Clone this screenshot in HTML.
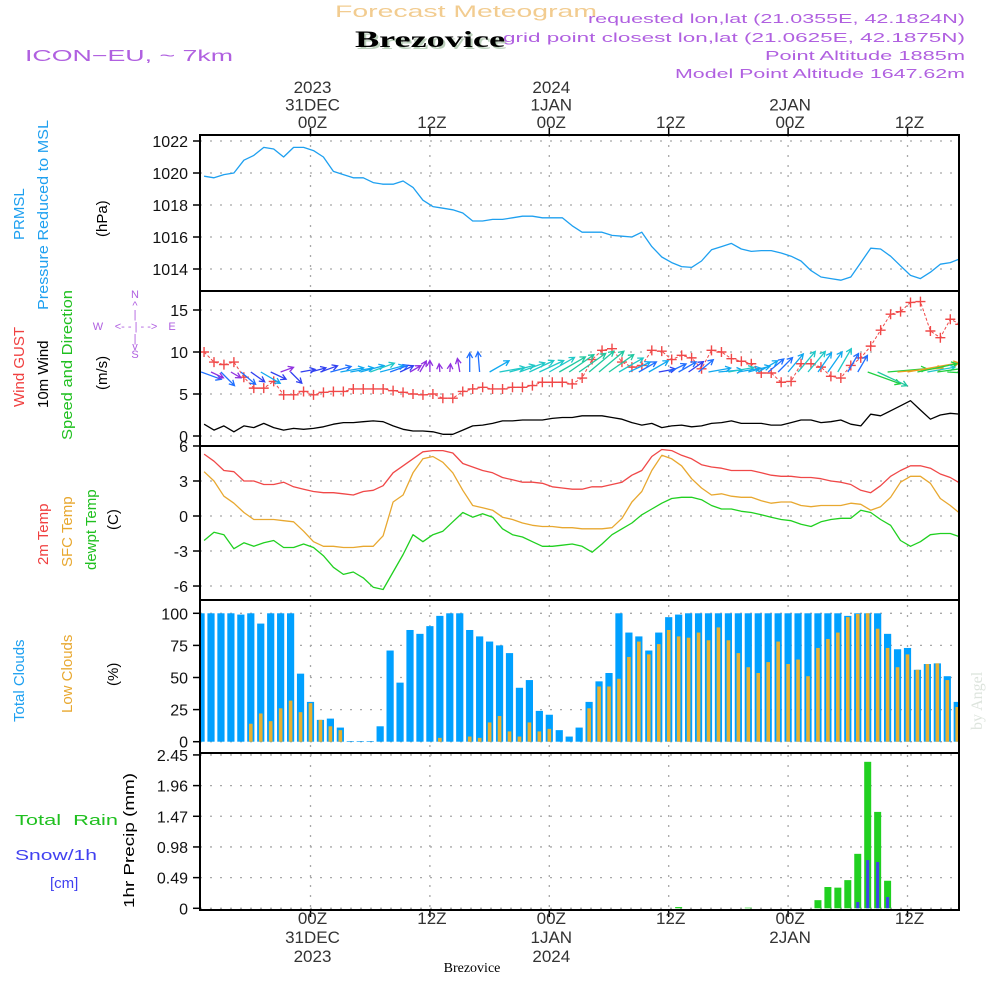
<!DOCTYPE html>
<html><head><meta charset="utf-8"><title>Forecast Meteogram Brezovice</title>
<style>
html,body{margin:0;padding:0;background:#fff;}
svg{display:block;font-family:"Liberation Sans",sans-serif;}
</style></head>
<body>
<svg id="chart" width="1000" height="1000" viewBox="0 0 1000 1000" xmlns="http://www.w3.org/2000/svg">
<defs><clipPath id="plotclip"><rect x="201" y="130" width="757" height="790"/></clipPath></defs>
<text x="335" y="17" font-size="17" fill="#f2cc90" textLength="262" lengthAdjust="spacingAndGlyphs">Forecast Meteogram</text>
<text x="357" y="49" font-size="23" font-weight="bold" font-family="Liberation Serif,serif" fill="#bcd0bc" textLength="150" lengthAdjust="spacingAndGlyphs">Brezovice</text>
<text x="355" y="47" font-size="23" font-weight="bold" font-family="Liberation Serif,serif" fill="#000" textLength="150" lengthAdjust="spacingAndGlyphs">Brezovice</text>
<text x="25" y="61" font-size="16" fill="#b060e0" textLength="208" lengthAdjust="spacingAndGlyphs">ICON−EU, ~ 7km</text>
<g font-size="13" fill="#b060e0" text-anchor="end">
<text x="965" y="23" textLength="377" lengthAdjust="spacingAndGlyphs">requested lon,lat (21.0355E, 42.1824N)</text>
<text x="965" y="42" textLength="462" lengthAdjust="spacingAndGlyphs">grid point closest lon,lat (21.0625E, 42.1875N)</text>
<text x="965" y="60" textLength="200" lengthAdjust="spacingAndGlyphs">Point Altitude 1885m</text>
<text x="965" y="78" textLength="290" lengthAdjust="spacingAndGlyphs">Model Point Altitude 1647.62m</text>
</g>
<g font-size="15">
<text transform="translate(24,240) rotate(-90)" fill="#1ea0f0">PRMSL</text>
<text transform="translate(48,310) rotate(-90)" fill="#1ea0f0" textLength="190" lengthAdjust="spacingAndGlyphs">Pressure Reduced to MSL</text>
<text transform="translate(107,237) rotate(-90)" fill="#000">(hPa)</text>
<text transform="translate(24,407) rotate(-90)" fill="#f04040">Wind GUST</text>
<text transform="translate(48,408) rotate(-90)" fill="#000">10m Wind</text>
<text transform="translate(72,440) rotate(-90)" fill="#20c020" textLength="150" lengthAdjust="spacingAndGlyphs">Speed and Direction</text>
<text transform="translate(107,390) rotate(-90)" fill="#000">(m/s)</text>
<text transform="translate(48,565) rotate(-90)" fill="#f04040">2m Temp</text>
<text transform="translate(72,567) rotate(-90)" fill="#e8a830">SFC Temp</text>
<text transform="translate(96,570) rotate(-90)" fill="#20c020">dewpt Temp</text>
<text transform="translate(118,530) rotate(-90)" fill="#000">(C)</text>
<text transform="translate(24,722) rotate(-90)" fill="#1ea0f0">Total Clouds</text>
<text transform="translate(72,713) rotate(-90)" fill="#e8a830">Low Clouds</text>
<text transform="translate(118,686) rotate(-90)" fill="#000">(%)</text>
<text transform="translate(134,908) rotate(-90)" fill="#000" textLength="135" lengthAdjust="spacingAndGlyphs">1hr Precip (mm)</text>
<text x="15" y="825" fill="#20c020" xml:space="preserve" textLength="103" lengthAdjust="spacingAndGlyphs">Total  Rain</text>
<text x="15" y="860" fill="#4040f0" textLength="82" lengthAdjust="spacingAndGlyphs">Snow/1h</text>
<text x="50" y="888" fill="#4040f0">[cm]</text>
</g>
<g font-size="11" fill="#b060e0" text-anchor="middle">
<text x="135" y="298">N</text><text x="135" y="309">^</text><text x="135" y="318">|</text>
<text x="98" y="330">W</text><text x="136" y="330">&lt;- - | - -&gt;</text><text x="172" y="330">E</text>
<text x="135" y="342">|</text><text x="135" y="350">v</text><text x="135" y="358">S</text>
</g>
<text transform="translate(982,730) rotate(-90)" font-size="16" font-family="Liberation Serif,serif" fill="#dde4dd">by Angel</text>
<text x="472" y="972" font-size="14" font-family="Liberation Serif,serif" fill="#000" text-anchor="middle">Brezovice</text>
<g id="grid"></g>
<g id="marks" clip-path="url(#plotclip)"></g>
<g id="frame"></g>
</svg>
<script>
const hours = [];
for (let h = -11; h <= 65; h++) hours.push(h);
const pressure = [1019.8,1019.7,1019.9,1020.0,1020.8,1021.1,1021.6,1021.5,1021.0,1021.6,1021.6,1021.4,1021.0,1020.1,1019.9,1019.7,1019.7,1019.4,1019.3,1019.3,1019.5,1019.1,1018.3,1017.9,1017.8,1017.7,1017.5,1017.0,1017.0,1017.1,1017.1,1017.2,1017.3,1017.3,1017.2,1017.2,1017.2,1016.7,1016.3,1016.3,
1016.3,1016.1,1016.05,1016.0,1016.3,1015.4,1014.75,1014.4,1014.15,1014.1,1014.5,1015.2,1015.4,1015.6,1015.25,1015.1,1015.15,1015.15,1015.0,1014.8,1014.5,1013.9,1013.5,1013.4,1013.3,1013.5,1014.4,1015.3,1015.25,1014.8,1014.2,1013.6,1013.4,1013.8,1014.3,1014.4,1014.65];
const gust = [10.0,8.8,8.5,8.8,7.0,5.7,5.7,6.5,4.9,4.9,5.3,4.9,5.2,5.3,5.3,5.6,5.6,5.6,5.6,5.4,5.2,5.0,4.9,5.0,4.5,4.5,5.3,5.6,5.8,5.6,5.6,5.8,5.8,6.0,6.4,6.4,6.4,6.2,6.9,9.1,
10.2,10.4,8.8,8.2,8.4,10.2,10.1,9.1,9.6,9.3,8.0,10.2,10.0,9.2,8.9,8.6,7.5,7.5,6.4,6.5,8.6,8.6,8.2,7.1,6.9,8.4,9.3,10.7,12.6,14.5,14.8,15.9,16.0,12.5,11.7,13.9,13.3];
const windSpeed = [1.4,0.7,1.2,0.5,1.2,1.0,1.5,1.0,0.7,0.9,0.8,0.9,1.1,1.4,1.6,1.6,1.7,1.8,1.7,1.2,0.8,0.6,0.6,0.5,0.2,0.2,0.7,1.2,1.3,1.5,1.8,1.8,1.9,1.9,1.9,2.1,2.2,2.2,2.4,2.4,
2.4,2.2,2.0,1.6,1.3,1.5,1.0,1.2,1.3,1.1,1.2,1.5,1.6,1.8,1.5,1.5,1.5,1.3,1.3,1.6,1.9,1.9,1.6,1.7,1.9,1.4,1.2,2.6,2.4,3.0,3.6,4.2,3.1,2.0,2.5,2.7,2.6];
const windDir = [-20,-25,-45,-30,-40,-35,-30,-25,20,-45,
10,15,20,15,10,10,15,20,15,20,
25,30,60,90,95,85,100,90,95,30,
10,15,20,25,25,30,30,35,35,40,
40,35,30,25,30,30,10,25,30,35,
40,10,5,10,10,15,30,40,45,50,
50,50,55,55,60,60,60,-20,-25,5,
5,10,12,10,8,-3,-3];
const temp2m = [5.3,4.7,3.9,3.8,3.0,3.0,2.7,2.7,2.9,2.5,2.3,2.1,2.0,2.0,1.9,1.8,2.1,2.2,2.6,3.7,4.3,4.9,5.5,5.6,5.6,5.4,4.5,4.2,3.9,3.7,3.3,3.1,2.9,2.9,2.8,2.5,2.4,2.3,2.3,2.5,
2.5,2.7,2.9,3.5,3.9,5.1,5.7,5.6,5.2,4.9,4.4,4.2,4.1,3.9,3.9,3.9,3.7,3.5,3.4,3.4,3.3,3.3,3.2,3.0,2.9,2.7,2.2,2.0,2.6,3.4,3.9,4.3,4.3,4.1,3.6,3.3,2.8];
const tempSfc = [3.8,3.0,1.7,1.1,0.3,-0.3,-0.3,-0.3,-0.4,-0.5,-1.3,-2.2,-2.6,-2.6,-2.7,-2.7,-2.6,-2.6,-1.7,1.2,1.8,3.7,4.9,5.1,4.6,3.7,2.2,0.9,0.7,0.5,-0.1,-0.3,-0.6,-0.8,-0.9,-0.9,-1.0,-1.0,-1.1,-1.1,
-1.1,-1.0,-0.2,1.2,2.1,3.9,5.2,4.9,4.3,3.2,2.4,1.8,1.9,1.7,1.6,1.6,1.3,1.1,1.2,1.2,0.9,0.8,0.9,0.9,0.9,1.1,1.0,0.5,0.8,1.6,2.9,3.4,3.4,2.8,1.5,0.9,0.2];
const dewpt = [-2.1,-1.4,-1.6,-2.8,-2.3,-2.6,-2.3,-2.1,-2.7,-2.7,-2.4,-2.7,-3.4,-4.4,-5.0,-4.8,-5.3,-6.1,-6.3,-4.8,-3.3,-1.6,-2.2,-1.6,-1.3,-0.5,0.3,-0.1,0.2,-0.1,-1.1,-1.6,-1.8,-2.2,-2.6,-2.6,-2.5,-2.4,-2.6,-3.1,
-2.4,-1.6,-1.1,-0.6,0.1,0.6,1.1,1.5,1.6,1.6,1.4,0.9,0.6,0.6,0.4,0.3,0.1,-0.1,-0.3,-0.4,-0.7,-0.9,-0.5,-0.3,-0.2,-0.2,0.5,0.3,-0.3,-0.8,-2.1,-2.6,-2.2,-1.6,-1.5,-1.5,-1.8];
const totalCloud = [100,100,100,100,99,100,92,100,100,100,53,31,17,18,11,0.5,0.5,0.5,12,71,46,87,84,90,98,100,100,87,82,78,75,69,42,48,24,21,9,4,11,31,
47,53.5,100,85,82,71,85,97,99,100,100,100,100,100,100,100,100,100,100,100,100,100,100,100,100,98,100,100,100,84,72,73,56,60.5,61,51,31];
const lowCloud = [0,0,0,0,0,14,22,16,26,32,23,30,17,12,9,0,0,0,0,0,0,0,0,0,3,0,0,4,3,15,20,8,4,15,8,10,0,0,0,26,
43,43,49,66,78,68,76,87,82,81,85,79,89,79,69,58,53.5,62,78,60.5,64,51,73,80,85,97,99.5,100,88,73,58,68,56,60.5,61,48,27];
const rain = [0,0,0,0,0,0,0,0,0,0,0,0,0,0,0,0,0,0,0,0,0,0,0,0,0,0,0,0,0,0,0,0,0,0,0,0,0,0,0,0,
0,0,0,0,0,0,0,0,0.02,0,0,0,0,0,0,0.01,0,0,0,0,0,0,0.13,0.34,0.33,0.45,0.87,2.34,1.54,0.44,0,0,0,0,0,0,0];
const snow = [0,0,0,0,0,0,0,0,0,0,0,0,0,0,0,0,0,0,0,0,0,0,0,0,0,0,0,0,0,0,0,0,0,0,0,0,0,0,0,0,
0,0,0,0,0,0,0,0,0,0,0,0,0,0,0,0,0,0,0,0,0,0,0,0,0,0,0.10,0.77,0.74,0.18,0,0,0,0,0,0,0];
const pressTicks = [1014,1016,1018,1020,1022];
const windTicks = [0,5,10,15];
const tempTicks = [-6,-3,0,3,6];
const cloudTicks = [0,25,50,75,100];
const precipTicks = ["0","0.49","0.98","1.47","1.96","2.45"];
const timeTicks = [0,12,24,36,48,60];
const topLabels = [["2023","31DEC","00Z"],["","","12Z"],["2024","1JAN","00Z"],["","","12Z"],["","2JAN","00Z"],["","","12Z"]];
const bottomLabels = [["00Z","31DEC","2023"],["12Z","",""],["00Z","1JAN","2024"],["12Z","",""],["00Z","2JAN",""],["12Z","",""]];

const NS = "http://www.w3.org/2000/svg";
const L = 200, R = 959;
const panels = {p:[135,291], w:[291,446], t:[446,600], c:[600,753], r:[753,910]};
function X(h){ return 310.5 + 9.95*h; }
function XL(h){ return X(h) + 3; }
function Yp(v){ return 141 + (1022 - v)*16; }
function Yw(v){ return 436 - v*8.4; }
function Yt(v){ return 516 - v*11.67; }
function Yc(v){ return 741.7 - v*1.284; }
function Yr(v){ return 908.3 - v*62.6; }
function mk(tag, attrs, parent){ const e = document.createElementNS(NS, tag); for (const k in attrs) e.setAttribute(k, attrs[k]); parent.appendChild(e); return e; }
const grid = document.getElementById('grid'), marks = document.getElementById('marks'), frame = document.getElementById('frame');
const dot = {stroke:'#a8a8a8','stroke-width':1.3,'stroke-dasharray':'2,8'};

function hgrid(vals, Y, fmt, name){
  vals.forEach(v => {
    const y = Y(parseFloat(v));
    const g = mk('line', Object.assign({x1:L, x2:R, y1:y, y2:y}, dot), grid);
    
    
    const tk = mk('line', {x1:L-7, x2:L, y1:y, y2:y, stroke:'#000','stroke-width':1.5}, frame);
    
    
    const t = mk('text', {x:L-12, y:y+6, 'font-size':16, 'text-anchor':'end', fill:'#111'}, frame);
    t.textContent = fmt(v);
    
    
  });
}
hgrid(pressTicks, Yp, v=>String(v), 'pressure');
hgrid(windTicks, Yw, v=>String(v), 'wind');
hgrid(tempTicks, Yt, v=>String(v), 'temp');
hgrid(cloudTicks, Yc, v=>String(v), 'cloud');
hgrid(precipTicks, Yr, v=>v, 'precip');
timeTicks.forEach(h => {
  const x = X(h);
  const v = mk('line', Object.assign({x1:x, x2:x, y1:135, y2:910}, dot), grid);
  
  
  const t1 = mk('line', {x1:x, x2:x, y1:128, y2:135, stroke:'#000','stroke-width':1.5}, frame);
  
  
  const t2 = mk('line', {x1:x, x2:x, y1:910, y2:917, stroke:'#000','stroke-width':1.5}, frame);
  
  
});
timeTicks.forEach((h, i) => {
  const x = X(h) + 2;
  topLabels[i].forEach((s, j) => { if (!s) return;
    const t = mk('text', {x:x, y:93 + j*17.5, 'font-size':17, 'text-anchor':'middle', fill:'#333'}, frame);
    t.textContent = s;
    
    
  });
  bottomLabels[i].forEach((s, j) => { if (!s) return;
    const t = mk('text', {x:x, y:924 + j*19, 'font-size':17, 'text-anchor':'middle', fill:'#333'}, frame);
    t.textContent = s;
    
    
  });
});
Object.keys(panels).forEach(k => {
  const [a, b] = panels[k];
  const r = mk('rect', {x:L, y:a, width:R-L, height:b-a, fill:'none', stroke:'#000', 'stroke-width':2}, frame);
  
  
});

function line(vals, Y, color, name, w, dash){
  const pts = vals.map((v,i) => XL(hours[i]).toFixed(1) + ',' + Y(v).toFixed(1)).join(' ');
  const attrs = {points:pts, fill:'none', stroke:color, 'stroke-width':w||1.3, 'stroke-linejoin':'round'};
  if (dash) attrs['stroke-dasharray'] = dash;
  const p = mk('polyline', attrs, marks);
  
  
}
totalCloud.forEach((v,i) => {
  const x = X(hours[i]);
  const b = mk('rect', {x:x-3.6, y:Yc(v), width:7.2, height:Yc(0)-Yc(v), fill:'#00a0ff'}, marks);
  
  
});
lowCloud.forEach((v,i) => {
  if (v <= 0) return;
  const x = X(hours[i]);
  const b = mk('rect', {x:x-1.8, y:Yc(v), width:3.6, height:Yc(0)-Yc(v), fill:'#e8b030'}, marks);
  
  
});
rain.forEach((v,i) => {
  if (v <= 0) return;
  const x = X(hours[i]);
  const b = mk('rect', {x:x-3.5, y:Yr(v), width:7, height:Yr(0)-Yr(v), fill:'#20d020'}, marks);
  
  
});
snow.forEach((v,i) => {
  if (v <= 0) return;
  const x = X(hours[i]);
  const b = mk('rect', {x:x-1.5, y:Yr(v), width:3, height:Yr(0)-Yr(v), fill:'#4040f0'}, marks);
  
  
});
line(pressure, Yp, '#1ea0f0', 'pressure-line');
line(windSpeed, Yw, '#000', 'wind-speed-line');
line(temp2m, Yt, '#f04848', 't2m-line');
line(tempSfc, Yt, '#e8a830', 'sfc-temp-line');
line(dewpt, Yt, '#20d020', 'dewpoint-line');
line(gust, Yw, '#f04848', 'gust-line', 1, '3,2');
gust.forEach((v,i) => {
  const x = XL(hours[i]), y = Yw(v);
  const c = mk('path', {d:`M${x-5},${y}H${x+5}M${x},${y-5}V${y+5}`, stroke:'#f04848', 'stroke-width':1.4}, marks);
  
  
});
function windColor(s){
  if (s < 0.8) return '#9030e0';
  if (s < 1.15) return '#3040f0';
  if (s < 1.45) return '#2070ff';
  if (s < 1.75) return '#10a8f0';
  if (s < 2.15) return '#20c8c8';
  if (s < 2.5) return '#20c8a0';
  if (s < 3.3) return '#20d040';
  return '#e8a020';
}
windSpeed.forEach((s,i) => {
  const x0 = XL(hours[i]) - 3, y0 = 372;
  const len = 6 + s*11;
  const a = windDir[i] * Math.PI / 180;
  const x1 = x0 + len*Math.cos(a), y1 = y0 - len*Math.sin(a);
  const hl = 6, ha = 0.5;
  const bx = Math.cos(a), by = -Math.sin(a);
  const h1x = x1 - hl*(bx*Math.cos(ha) - by*Math.sin(ha)), h1y = y1 - hl*(by*Math.cos(ha) + bx*Math.sin(ha));
  const h2x = x1 - hl*(bx*Math.cos(-ha) - by*Math.sin(-ha)), h2y = y1 - hl*(by*Math.cos(-ha) + bx*Math.sin(-ha));
  const p = mk('path', {d:`M${x0.toFixed(1)},${y0}L${x1.toFixed(1)},${y1.toFixed(1)}M${h1x.toFixed(1)},${h1y.toFixed(1)}L${x1.toFixed(1)},${y1.toFixed(1)}L${h2x.toFixed(1)},${h2y.toFixed(1)}`, fill:'none', stroke:windColor(s), 'stroke-width':1.3}, marks);
  
  
});
</script>
</body></html>
